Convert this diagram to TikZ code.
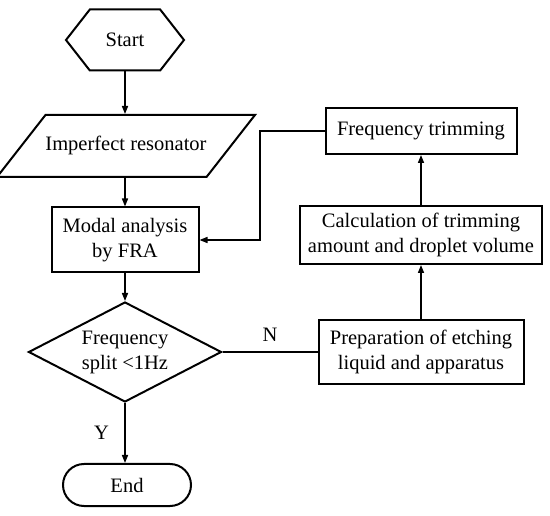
\documentclass[tikz,border=0pt]{standalone}
\usepackage{fontspec}
\setmainfont{Liberation Serif}
\usetikzlibrary{arrows.meta}
\usetikzlibrary{shapes.geometric,shapes.misc,shapes.symbols}
\tikzset{
    every node/.style={font=\fontsize{20.5}{25}\selectfont},
    flowbox/.style={draw,line width=2pt,align=center,inner sep=0pt},
    startbox/.style={flowbox,signal,signal to=east and west,signal pointer angle=104,minimum width=118pt,minimum height=61pt},
    inputbox/.style={flowbox,trapezium,trapezium left angle=52,trapezium right angle=128,trapezium stretches body,
        text height=14pt,text depth=4.5pt,inner ysep=21.75pt,minimum width=240pt},
    decisionbox/.style={flowbox,diamond,aspect=1.93,minimum width=193pt,minimum height=100pt},
    endbox/.style={flowbox,rounded rectangle,minimum width=128pt,minimum height=42pt},
    flowline/.style={line width=1.5pt,-{Triangle[length=8pt,width=6pt]}},
}
\begin{document}
\begin{tikzpicture}[x=1pt,y=-1pt]
\useasboundingbox (0,0) rectangle (550,516);
% left column
\node[startbox] (start) at (125,40) {Start};
\node[inputbox] (reso) at (126,146) {Imperfect resonator};
\node[flowbox,minimum width=147pt,minimum height=65pt] (modal) at (125,240) {Modal analysis\\by FRA};
\node[decisionbox] (split) at (125,352) {Frequency\\split <1Hz};
\node[endbox] (endn) at (127,485) {End};
% right column
\node[flowbox,minimum width=191pt,minimum height=46pt] (trim) at (421,131) {Frequency trimming};
\node[flowbox,minimum width=242pt,minimum height=58pt] (calc) at (421,235) {Calculation of trimming\\amount and droplet volume};
\node[flowbox,minimum width=205pt,minimum height=64pt] (prep) at (421,352) {Preparation of etching\\liquid and apparatus};
\coordinate (back) at (260,0);
% connectors
\draw[flowline] (start.south) -- (start.south |- reso.north);
\draw[flowline] (reso.south -| modal.north) -- (modal.north);
\draw[flowline] (modal) -- (split);
\draw[flowline] (split.south) -- (split.south |- endn.north) node[pos=0.5,left=12pt] (yes) {Y};
\draw[line width=1.5pt] (split.east) -- (prep.west) node[pos=0.5,above=6pt] (no) {N};
\draw[flowline] (prep) -- (calc);
\draw[flowline] (calc) -- (trim);
\draw[flowline] (trim.west) -| (back |- modal) -- (modal.east);
\end{tikzpicture}
\end{document}
